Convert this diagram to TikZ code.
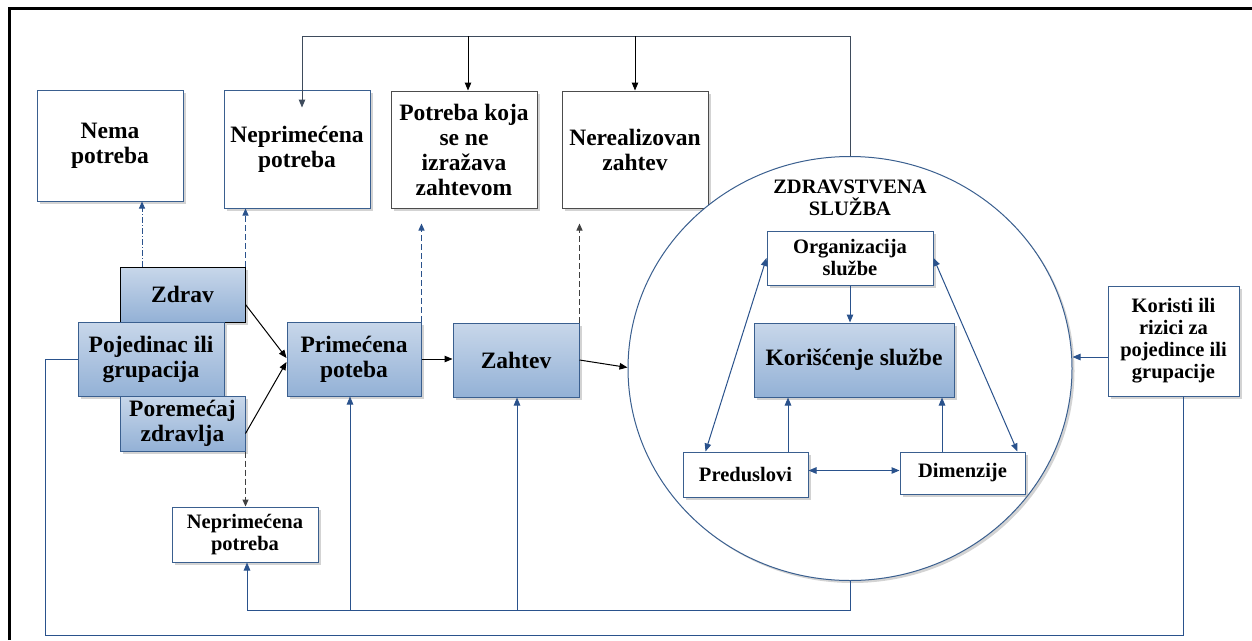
\documentclass[tikz,border=0pt]{standalone}
\usepackage{fontspec}
\setmainfont{Liberation Serif}
\usepackage{tikz}
\usetikzlibrary{arrows.meta,shadows,shapes.geometric}
\definecolor{boxline}{HTML}{3A5F8F}
\definecolor{arrblue}{HTML}{2A528C}
\definecolor{shadetop}{HTML}{C8D7EA}
\definecolor{shadebot}{HTML}{93B1D6}
\definecolor{fbgray}{HTML}{3E4B5C}
\newcommand{\txtbig}{\bfseries\fontsize{23.5}{25}\selectfont}
\newcommand{\txtsmall}{\bfseries\fontsize{20.5}{22}\selectfont}
\tikzset{
  boxshadow/.style = {drop shadow={shadow xshift=2.5pt,shadow yshift=-2.5pt,opacity=.35,fill=gray}},
  whitebox/.style  = {draw=boxline,line width=1pt,fill=white,align=center,inner sep=0pt,
                      font=\txtbig,boxshadow},
  shadebox/.style  = {whitebox,top color=shadetop,bottom color=shadebot},
  bluearr/.style   = {-{Triangle[length=8pt,width=6.5pt]},arrblue,line width=1pt},
  bothblue/.style  = {{Triangle[length=8pt,width=6.5pt]}-{Triangle[length=8pt,width=6.5pt]},arrblue,line width=1pt},
  blackarr/.style  = {-{Triangle[length=8pt,width=6.5pt]},black,line width=1pt},
  dasharr/.style   = {-{Triangle[length=7pt,width=6pt]},line width=1pt,dash pattern=on 6pt off 3pt}
}

\begin{document}
\begin{tikzpicture}[x=1pt,y=-1pt]
  \useasboundingbox (0,0) rectangle (1252,640);
  \draw[line width=3pt] (9.5,640) -- (9.5,8.5) -- (1252,8.5);

  % top row
  \node[whitebox,minimum width=146,minimum height=111] (nema)    at (110,145.5) {Nema\\potreba};
  \node[whitebox,minimum width=146,minimum height=118] (nepTop)  at (297,149)   {Neprimećena\\potreba};
  \node[whitebox,draw=black!70,minimum width=146,minimum height=117] (potreba) at (464,149.5)
        {Potreba koja\\se ne\\izražava\\zahtevom};
  \node[whitebox,draw=black!70,minimum width=146,minimum height=117] (nereal)  at (635,149.5)
        {Nerealizovan\\zahtev};

  % left group
  \node[shadebox,draw=black,minimum width=125,minimum height=55] (zdrav)   at (182.5,294.5) {Zdrav};
  \node[shadebox,minimum width=146,minimum height=74]            (pojed)   at (151,359)     {Pojedinac ili\\grupacija};
  \node[shadebox,minimum width=125,minimum height=55]            (poremec) at (182.5,423.5) {Poremećaj\\zdravlja};
  \node[whitebox,font=\txtsmall,minimum width=146,minimum height=55] (nepBot) at (245,534.5)
        {Neprimećena\\potreba};
  \node[shadebox,minimum width=134,minimum height=74] (primec) at (354,359) {Primećena\\poteba};
  \node[shadebox,minimum width=126,minimum height=74] (zahtev) at (516,360) {Zahtev};

  % health service
  \node[ellipse,draw=boxline,line width=1pt,boxshadow,fill=white,minimum width=444,minimum height=424,
        inner sep=0pt] (sluzba) at (850,368.5) {};
  \node[align=center,font=\txtsmall] (naslov) at (850,198) {ZDRAVSTVENA\\SLUŽBA};
  \node[whitebox,font=\txtsmall,minimum width=166,minimum height=54] (org)    at (850,258)   {Organizacija\\službe};
  \node[shadebox,minimum width=200,minimum height=74]                (koris)  at (854,360)   {Korišćenje službe};
  \node[whitebox,font=\txtsmall,minimum width=125,minimum height=45] (predus) at (745.5,474.5) {Preduslovi};
  \node[whitebox,font=\txtsmall,minimum width=125,minimum height=42] (dimenz) at (962.5,473)  {Dimenzije};
  \node[whitebox,font=\txtsmall,minimum width=131,minimum height=110] (koristi) at (1173.5,341)
        {Koristi ili\\rizici za\\pojedince ili\\grupacije};

  \coordinate (topfb)   at (850,36);
  \coordinate (botfb)   at (850,610);
  \coordinate (outerfb) at (45,635);

  % main flow
  \draw[blackarr] ([yshift=-10pt]zdrav.east) -- ([yshift=1pt]primec.west);
  \draw[blackarr] ([yshift=-10pt]poremec.east) -- ([yshift=-3pt]primec.west);
  \draw[blackarr] (primec.east) -- (primec.east -| zahtev.west);
  \draw[blackarr] (zahtev.east) -- ([yshift=1pt]sluzba.west);
  \draw[bluearr] ([yshift=-16pt]koristi.west) -- ([yshift=-16pt]koristi.west -| sluzba.east);

  % dashed
  \draw[dasharr,arrblue,dash pattern=on 6pt off 2pt on 1pt off 2pt]
        ([xshift=-40.5pt]zdrav.north) -- ([xshift=-40.5pt]zdrav.north |- nema.south);
  \draw[dasharr,arrblue] (zdrav.north east) -- (zdrav.north east |- nepTop.south);
  \draw[dasharr,arrblue] (primec.north east) -- ([yshift=-15pt]primec.north east |- potreba.south);
  \draw[dasharr,black!75] (zahtev.north east) -- ([yshift=-15pt]zahtev.north east |- nereal.south);
  \draw[dasharr,black!75] (poremec.south east) -- (poremec.south east |- nepBot.north);

  % feedback on top
  \draw[-{Triangle[length=8pt,width=6.5pt]},fbgray,line width=1pt]
        (sluzba.north) -- (topfb) -| ([xshift=5pt,yshift=-18pt]nepTop.north);
  \draw[blackarr] ([xshift=4pt]potreba.north |- topfb) -- ([xshift=4pt]potreba.north);
  \draw[blackarr] (nereal.north |- topfb) -- (nereal.north);

  % feedback at the bottom
  \draw[bluearr] (sluzba.south) -- (botfb) -| ([xshift=2pt]nepBot.south);
  \draw[bluearr] ([xshift=-4pt]primec.south |- botfb) -- ([xshift=-4pt]primec.south);
  \draw[bluearr] ([xshift=1pt]zahtev.south |- botfb) -- ([xshift=1pt]zahtev.south);
  \draw[arrblue,line width=1pt] ([xshift=9.5pt]koristi.south) |- (outerfb) |- (pojed.west);

  % inside the service
  \draw[bluearr] (org.south) -- (org.south |- koris.north);
  \draw[bluearr] ([xshift=42.5pt]predus.north) -- ([xshift=42.5pt]predus.north |- koris.south);
  \draw[bluearr] ([xshift=-20.5pt]dimenz.north) -- ([xshift=-20.5pt]dimenz.north |- koris.south);
  \draw[bothblue] ([yshift=4pt]predus.east) -- ([yshift=4pt]predus.east -| dimenz.west);
  \draw[bothblue] (org.west) -- ([xshift=23pt]predus.north west);
  \draw[bothblue] (org.east) -- ([xshift=-8pt]dimenz.north east);
\end{tikzpicture}
\end{document}
